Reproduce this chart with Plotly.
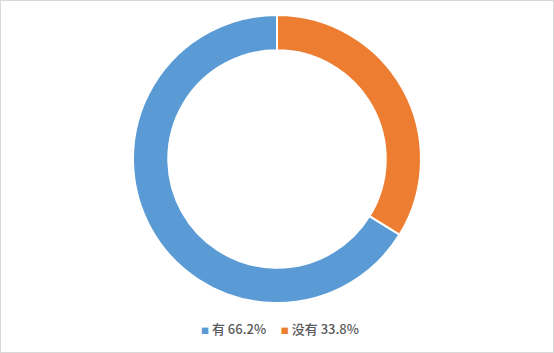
import plotly.graph_objects as go

labels = ["有 66.2%", "没有 33.8%"]
values = [66.2, 33.8]
colors = ["#5B9BD5", "#ED7D31"]

W, H = 554, 353
cx, cy, r = 277, 159, 144

# orange slice starts at 12 o'clock going clockwise; blue fills the rest
start_deg = values[1] / sum(values) * 360

fig = go.Figure(go.Pie(
    labels=labels,
    values=values,
    hole=0.755,
    sort=False,
    direction="clockwise",
    rotation=start_deg,
    marker=dict(colors=colors, line=dict(color="white", width=2)),
    textinfo="none",
    hoverinfo="label",
    showlegend=False,
    domain=dict(x=[(cx - r) / W, (cx + r) / W], y=[1 - (cy + r) / H, 1 - (cy - r) / H]),
))

parts = []
for lab, col in zip(labels, colors):
    parts.append(f'<span style="color:{col};font-size:8px">■</span> {lab}')
legend_text = "     ".join(parts)

fig.update_layout(
    width=W, height=H,
    margin=dict(l=0, r=0, t=0, b=0),
    paper_bgcolor="white",
    plot_bgcolor="white",
    annotations=[dict(
        text=legend_text, xref="paper", yref="paper",
        x=280 / W, xanchor="center", y=1 - 328 / H, yanchor="middle",
        showarrow=False,
        font=dict(family="Noto Sans CJK SC", size=13, color="#595959", weight=500),
    )],
    shapes=[dict(type="rect", xref="paper", yref="paper", x0=0, x1=1, y0=0, y1=1,
                 line=dict(color="#D9D9D9", width=2))],
)

fig.write_html("out.html")
